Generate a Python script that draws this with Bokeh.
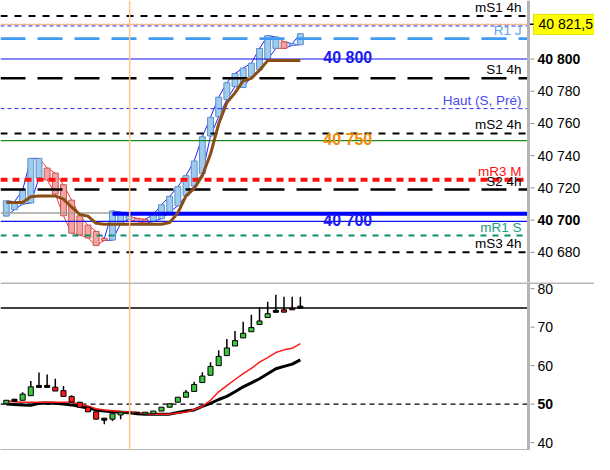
from bokeh.plotting import figure
from bokeh.layouts import column
from bokeh.models import ColumnDataSource, Range1d, Span
from bokeh.core.properties import value
from bokeh.embed import file_html
from bokeh.resources import INLINE

FONT = "Liberation Sans"

# ---------------- data ----------------
idx = list(range(37))
ha_open = [40702.5, 40706.5, 40710.0, 40710.6, 40726.2, 40732.3, 40729.2, 40722.0, 40712.4, 40702.7,
           40696.9, 40693.0, 40688.6, 40687.6, 40697.9, 40700.5, 40701.1, 40700.5, 40699.1, 40700.9,
           40704.9, 40708.9, 40715.1, 40721.2, 40729.0, 40752.2, 40764.2, 40774.9, 40782.9, 40782.3,
           40789.0, 40793.4, 40799.6, 40806.6, 40810.7, 40808.4, 40808.9]
ha_close = [40712.0, 40711.5, 40718.6, 40738.3, 40738.3, 40725.0, 40716.2, 40702.7, 40691.9, 40690.8,
            40688.9, 40684.2, 40687.4, 40705.7, 40704.9, 40702.5, 40699.1, 40698.1, 40703.5, 40709.5,
            40714.8, 40720.8, 40727.6, 40736.7, 40751.7, 40763.8, 40776.3, 40785.3, 40791.0, 40794.4,
            40797.4, 40806.5, 40814.5, 40813.7, 40806.6, 40809.5, 40815.7]
trend = [40711, 40711, 40711, 40714.5, 40715, 40715, 40715, 40713, 40708, 40703.5,
         40702.5, 40698, 40697.5, 40697.5, 40697.5, 40697.5, 40697.5, 40697.5, 40697.5, 40697.5,
         40698.5, 40704.5, 40715, 40719.6, 40727.6, 40741, 40759.8, 40772.9, 40779, 40786.5,
         40788, 40793, 40799, 40799, 40799, 40799, 40799]

osc_open = [50.1, 51.0, 51.0, 52.2, 54.6, 54.6, 54.4, 53.5, 52.0, 50.5, 49.2, 48.0, 46.1, 46.1, 47.2,
            47.5, 47.9, 47.4, 47.5, 48.2, 49.2, 50.5, 51.8, 53.3, 55.6, 57.5, 60.0, 62.6, 65.1, 67.2,
            68.8, 70.7, 72.5, 74.1, 74.5, 74.9, 75.2]
osc_close = [51.0, 51.0, 52.6, 54.5, 54.6, 54.6, 53.4, 52.0, 50.5, 49.2, 48.0, 46.1, 46.1, 47.5, 47.9,
             47.9, 47.6, 47.9, 48.2, 49.2, 50.1, 51.8, 53.1, 55.1, 57.3, 59.8, 62.4, 64.6, 66.5, 68.4,
             69.9, 71.6, 73.5, 74.1, 73.9, 74.5, 75.2]
osc_high = [51.0, 51.4, 53.1, 56.0, 58.2, 57.7, 56.6, 54.7, 52.3, 50.5, 49.2, 48.0, 46.1, 47.5, 47.9,
            47.9, 47.9, 47.9, 48.2, 49.2, 50.1, 51.8, 53.7, 55.8, 58.3, 60.9, 64.0, 66.9, 69.0, 71.4,
            73.2, 75.2, 76.6, 78.4, 77.9, 77.9, 77.9]
osc_low = [50.1, 50.6, 51.0, 52.2, 54.6, 54.6, 53.4, 52.0, 50.5, 49.2, 48.0, 46.1, 44.8, 45.6, 46.1,
           47.5, 47.6, 47.4, 47.5, 48.2, 49.2, 50.5, 51.8, 53.3, 55.6, 57.5, 60.0, 62.6, 65.1, 67.2,
           68.8, 70.7, 72.5, 74.1, 73.9, 74.5, 75.2]
osc_fast = [50.9, 50.6, 50.5, 50.5, 50.5, 50.5, 50.5, 50.5, 50.5, 50.0, 49.5, 48.8, 48.5, 48.3, 48.1,
            48.0, 47.8, 47.5, 47.4, 47.4, 47.4, 47.7, 47.9, 48.6, 49.4, 51.0, 53.2, 54.8, 56.4, 57.9,
            59.3, 60.9, 62.1, 63.4, 64.1, 64.5, 65.7]
osc_slow = [50.0, 49.9, 49.8, 49.7, 50.2, 50.3, 50.2, 50.0, 49.8, 49.4, 49.0, 48.5, 48.2, 48.0, 47.9,
            47.8, 47.5, 47.4, 47.4, 47.4, 47.4, 47.8, 48.2, 48.5, 49.4, 50.2, 51.2, 52.0, 53.2, 54.5,
            55.5, 56.6, 57.9, 59.2, 59.8, 60.4, 61.5]

# labelled levels
level_values = [40826.7, 40812.7, 40788.0, 40769.2, 40753.8, 40725.0, 40719.0, 40690.4, 40680.0]
level_labels = ["mS1 4h", "R1 J", "S1 4h", "Haut (S, Pré)", "mS2 4h", "mR3 M", "S2 4h", "mR1 S", "mS3 4h"]
level_line_colors = ["#000000", "#3f9cf0", "#000000", "#2b2bf0", "#000000", "#ff1010", "#000000", "#0a9070", "#000000"]
level_text_colors = ["#000000", "#5aa5ee", "#000000", "#4a4af0", "#000000", "#ff1010", "#000000", "#17a080", "#000000"]
level_dashes = ["7 7", "25 12", "25 12", "4 3", "7 7", "7 5", "25 12", "6 6", "7 7"]
level_widths = [2, 2.7, 2.5, 1, 2, 4, 2.5, 2, 2]

# round-number levels
round_values = [40800.0, 40749.3, 40699.2]
round_labels = ["40 800", "40 750", "40 700"]
round_colors = ["#1a1aee", "#f08a0a", "#1a1aee"]
round_line_colors = ["#1010f0", "#1a8a1a", "#1010f0"]

price_last = 40821.5
price_last_label = "40 821,5"
pivot_dash_level = 40820.5
gray_level = 40704.5
blue_level = 40704.0
blue_level_start = 13
cursor_index = 15.1

price_ticks = [40680, 40700, 40720, 40740, 40760, 40780, 40800]
price_bold = [40700, 40800]
osc_ticks = [40, 50, 60, 70, 80]
osc_bold = [50]
osc_upper = 75
osc_mid = 50

X0, X1 = -0.71, 63.93          # visible candle-index range of the chart area
CW = 528                         # chart area width (px)
AW = 66                          # price-scale width (px)
XW = (X1 - X0) / CW              # index units per pixel
XE = X1 + AW * XW


def fmt(v):
    return "{:,}".format(int(v)).replace(",", " ")


def base_fig(h, yr):
    p = figure(width=CW + AW, height=h, x_range=Range1d(X0, XE), y_range=yr,
               x_axis_location=None, y_axis_location=None, output_backend="svg",
               toolbar_location=None, min_border=0)
    p.grid.visible = False
    p.outline_line_color = None
    p.background_fill_color = "white"
    p.border_fill_color = "white"
    return p


def price_scale(p, ticks, bold, fmtf):
    # scale rule, tick marks and tick labels positioned through the y scale
    p.add_layout(Span(location=X1, dimension="height", line_color="#b4b4b4", line_width=3))
    n = len(ticks)
    p.segment(x0=[X1 + 2 * XW] * n, x1=[X1 + 6 * XW] * n, y0=ticks, y1=ticks,
              line_color="#909090", line_width=1)
    src = ColumnDataSource(dict(y=ticks, t=[fmtf(t) for t in ticks],
                                fs=["bold" if t in bold else "normal" for t in ticks]))
    p.text(x=X1, y="y", text="t", source=src, x_offset=9, text_align="left",
           text_baseline="middle", text_font=value(FONT), text_font_size=value("14px"),
           text_font_style="fs", text_color="#000000")


def hline(p, y, color, width, dash="solid", x0=X0, x1=X1):
    p.segment(x0=[x0], x1=[x1], y0=[y], y1=[y], line_color=color, line_width=width, line_dash=dash)


# ---------------- top panel ----------------
p1 = base_fig(282, Range1d(40661.3, 40836.3))

up = [c >= o for o, c in zip(ha_open, ha_close)]
tops = [max(o, c) for o, c in zip(ha_open, ha_close)]
bots = [min(o, c) for o, c in zip(ha_open, ha_close)]

seg = ColumnDataSource(dict(
    x0=idx[:-1], x1=idx[1:],
    t0=tops[:-1], t1=tops[1:], b0=bots[:-1], b1=bots[1:],
    c=["#2020ff" if u else "#ff3030" for u in up[1:]]))
p1.segment("x0", "t0", "x1", "t1", source=seg, line_color="c", line_width=1)
p1.segment("x0", "b0", "x1", "b1", source=seg, line_color="c", line_width=1)

ha = ColumnDataSource(dict(x=idx, top=tops, bottom=bots,
                           fill=["#9ecbee" if u else "#f4a3a3" for u in up],
                           line=["#5a8fc8" if u else "#cc5555" for u in up]))
p1.vbar(x="x", top="top", bottom="bottom", width=0.72, source=ha,
        fill_color="fill", line_color="line", line_width=1)

for v, c, d, w in zip(level_values, level_line_colors, level_dashes, level_widths):
    hline(p1, v, c, w, d)
for v, c in zip(round_values, round_line_colors):
    hline(p1, v, c, 1.2)
hline(p1, price_last, "#f5b88a", 1.2)
hline(p1, pivot_dash_level, "#2b2bf0", 1, "4 3")
hline(p1, gray_level, "#a0a0a0", 1.5, x1=blue_level_start)
hline(p1, blue_level, "#0000ff", 4, x0=blue_level_start)

p1.line(idx, trend, line_color="#8b4d16", line_width=3)

p1.add_layout(Span(location=cursor_index, dimension="height", line_color="#ffc48a", line_width=1.5))

lab = ColumnDataSource(dict(y=level_values, t=level_labels, c=level_text_colors))
p1.text(x=X1, y="y", text="t", source=lab, text_color="c", text_align="right",
        text_baseline="bottom", x_offset=-7, y_offset=-1, text_font=value(FONT),
        text_font_size=value("13.5px"))

rl = ColumnDataSource(dict(y=round_values, t=round_labels, c=round_colors))
p1.text(x=41.8, y="y", text="t", source=rl, text_color="c", text_align="center",
        text_baseline="middle", text_font=value(FONT), text_font_size=value("16px"),
        text_font_style="bold", y_offset=-1)

price_scale(p1, price_ticks, price_bold, fmt)
# last-price tag
p1.rect(x=[X1 + 36 * XW], y=[price_last], width=62, height=20, width_units="screen",
        height_units="screen", fill_color="#ffff00", line_color="#e2e200")
p1.segment(x0=[X1 + 1 * XW], x1=[X1 + 5 * XW], y0=[price_last], y1=[price_last],
           line_color="#000000", line_width=1.5)
p1.text(x=[X1], y=[price_last], text=[price_last_label], x_offset=10, text_align="left",
        text_baseline="middle", text_font=value(FONT), text_font_size=value("14px"),
        text_color="#000000")

# ---------------- bottom panel ----------------
p2 = base_fig(168, Range1d(37.95, 81.6))

hline(p2, osc_upper, "#000000", 1.5)
hline(p2, osc_mid, "#000000", 1.2, "5 4")

p2.line(idx, osc_slow, line_color="#000000", line_width=3)
p2.line(idx, osc_fast, line_color="#ff1a1a", line_width=1.5)

p2.segment(x0=idx, y0=osc_low, x1=idx, y1=osc_high, line_color="#000000", line_width=1.5)
body_x, body_t, body_b, body_c = [], [], [], []
doji_x, doji_y = [], []
for i, o, c in zip(idx, osc_open, osc_close):
    if abs(c - o) < 0.05:
        doji_x.append(i)
        doji_y.append(c)
    else:
        body_x.append(i)
        body_t.append(max(o, c))
        body_b.append(min(o, c))
        body_c.append("#3fc43f" if c > o else "#ff1a1a")
p2.vbar(x=body_x, top=body_t, bottom=body_b, width=0.62, fill_color=body_c,
        line_color="#000000", line_width=1)
p2.rect(x=doji_x, y=doji_y, width=0.62, height=2, height_units="screen",
        fill_color="#000000", line_color="#000000")

p2.add_layout(Span(location=cursor_index, dimension="height", line_color="#ffc48a", line_width=1.5))
p2.add_layout(Span(location=81.45, dimension="width", line_color="#b8b8b8", line_width=2))
hline(p2, 38.1, "#b8b8b8", 2)

price_scale(p2, osc_ticks, osc_bold, lambda t: str(t))

layout = column(p1, p2, spacing=0)
open("out.html", "w").write(file_html(layout, INLINE))
